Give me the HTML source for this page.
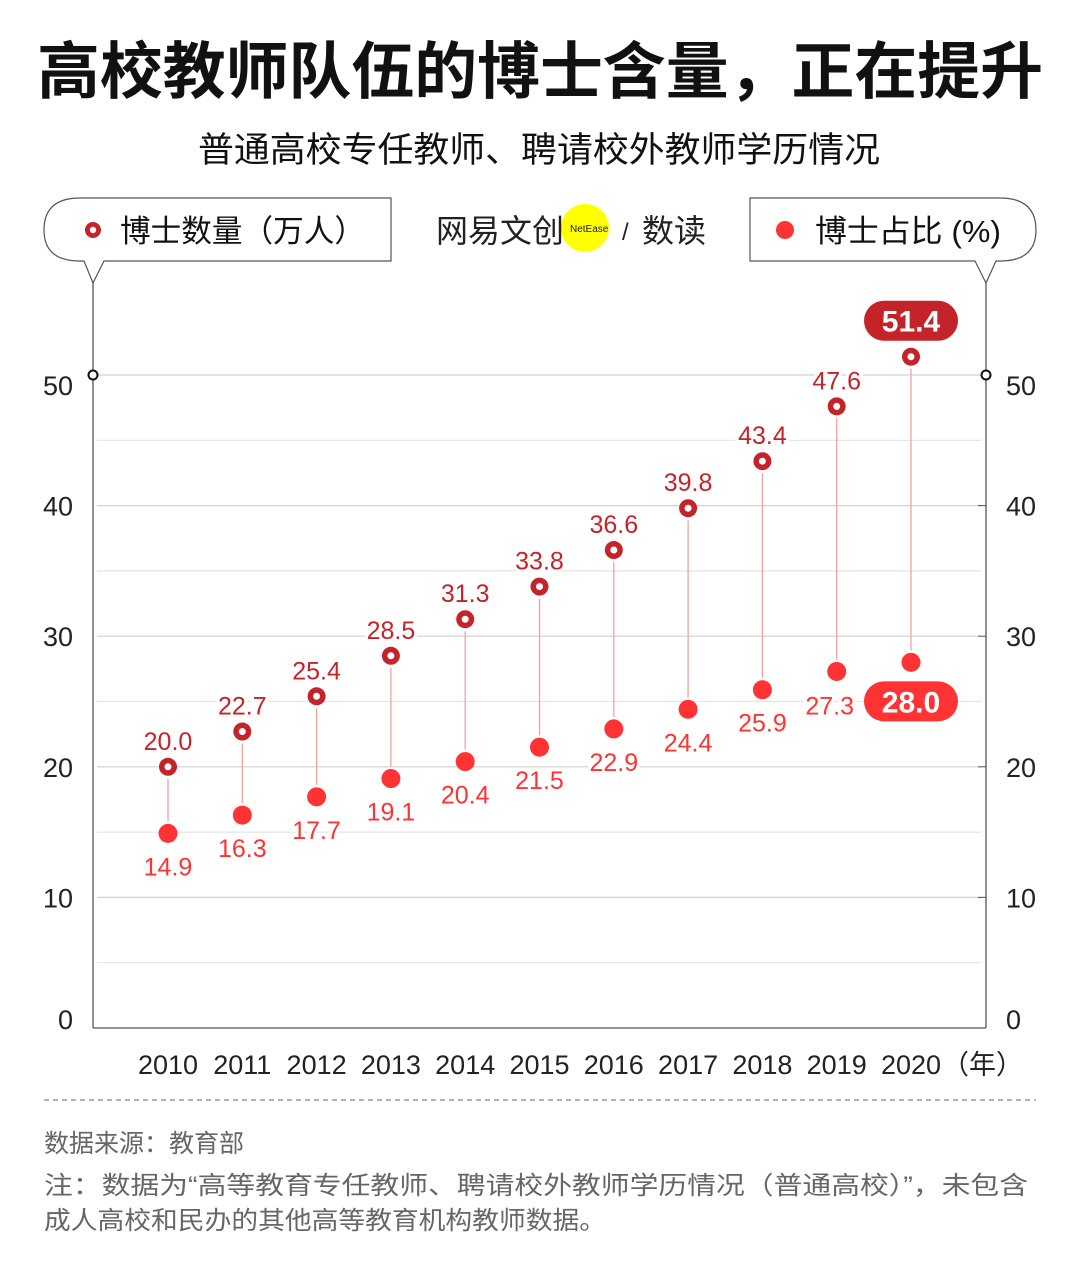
<!DOCTYPE html>
<html><head><meta charset="utf-8"><style>
body{margin:0;background:#fff;}
svg text{font-family:"Liberation Sans","Noto Sans CJK SC",sans-serif;}
</style></head><body>
<svg id="chart" width="1080" height="1274" viewBox="0 0 1080 1274" xmlns="http://www.w3.org/2000/svg">
<text x="37" y="93" textLength="1006" lengthAdjust="spacingAndGlyphs" font-size="62" font-weight="bold" fill="#111">高校教师队伍的博士含量，正在提升</text>
<text x="198" y="162" textLength="682" lengthAdjust="spacingAndGlyphs" font-size="35" fill="#111">普通高校专任教师、聘请校外教师学历情况</text>
<g>
<path d="M80,198 H391 V261 H104 L93,283 L84,261 H80 Q44,261 44,230 Q44,198 80,198 Z" fill="#fff" stroke="#555" stroke-width="1.2"/>
<circle cx="93" cy="230" r="8" fill="#c4232a"/><circle cx="93" cy="230" r="3.2" fill="#fff"/>
<text x="120" y="242" textLength="245" lengthAdjust="spacingAndGlyphs" font-size="31" fill="#111">博士数量（万人）</text>
</g>
<g>
<path d="M750,198 H1000 Q1036,198 1036,230 Q1036,261 1000,261 H996 L986,283 L975,261 H750 Z" fill="#fff" stroke="#555" stroke-width="1.2"/>
<circle cx="785" cy="230" r="9" fill="#f33"/>
<text x="815" y="242" textLength="186" lengthAdjust="spacingAndGlyphs" font-size="31" fill="#111">博士占比 (%)</text>
</g>
<g>
<circle cx="585" cy="228" r="24" fill="#ff0"/>
<text x="436" y="242" font-size="32" fill="#222">网易文创</text>
<text x="570" y="232" font-size="10" fill="#222">NetEase</text>
<text x="622" y="240" font-size="24" fill="#222">/</text>
<text x="642" y="242" font-size="32" fill="#222">数读</text>
</g>
<g id="grid"></g>
<g id="marks"></g>
<text x="44" y="1152" font-size="25" fill="#666">数据来源：教育部</text>
<text x="44" y="1194" textLength="984" lengthAdjust="spacingAndGlyphs" font-size="25" fill="#666">注：数据为“高等教育专任教师、聘请校外教师学历情况（普通高校）”，未包含</text>
<text x="44" y="1229" textLength="562" lengthAdjust="spacingAndGlyphs" font-size="25" fill="#666">成人高校和民办的其他高等教育机构教师数据。</text>
<line x1="44" y1="1100" x2="1036" y2="1100" stroke="#888" stroke-dasharray="5,4" stroke-width="1.2"/>
</svg>
<script>
const years=["2010","2011","2012","2013","2014","2015","2016","2017","2018","2019","2020"];
const doctorCount=[20.0,22.7,25.4,28.5,31.3,33.8,36.6,39.8,43.4,47.6,51.4];
const doctorRatio=[14.9,16.3,17.7,19.1,20.4,21.5,22.9,24.4,25.9,27.3,28.0];
const yTicks=[0,10,20,30,40,50];
const NS="http://www.w3.org/2000/svg";
const y=v=>1028-v*13.06;
const x=i=>168+i*74.3;
function mk(tag,attrs,parent,txt){const e=document.createElementNS(NS,tag);for(const k in attrs)e.setAttribute(k,attrs[k]);if(txt!==undefined)e.textContent=txt;parent.appendChild(e);return e;}
const g=document.getElementById('grid'),m=document.getElementById('marks');
for(let v=5;v<=50;v+=5){
 const l=mk('line',{x1:97,x2:982,y1:y(v),y2:y(v),stroke:v%10?'#e4e4e4':'#d2d2d2','stroke-width':1.2},g);
 
 
}
yTicks.forEach((v,k)=>{
 const off=k===yTicks.length-1?20:(k===0?1:10);
 const a=mk('text',{x:73,y:y(v)+off,'text-anchor':'end','font-size':27,fill:'#222'},g,String(v));
 
 
 const b=mk('text',{x:1006,y:y(v)+off,'font-size':27,fill:'#222'},g,String(v));
 
 
 if(v>0&&v<50)mk('line',{x1:978,x2:986,y1:y(v),y2:y(v),stroke:'#555'},g);
});
const ax=[[93,283,93,1028],[986,283,986,1028],[93,1028,986,1028]];
ax.forEach(a=>{const l=mk('line',{x1:a[0],y1:a[1],x2:a[2],y2:a[3],stroke:'#555','stroke-width':1.3},g);
 
 });
[93,986].forEach(cx=>mk('circle',{cx:cx,cy:y(50),r:4.5,fill:'#fff',stroke:'#111','stroke-width':2},g));
years.forEach((yr,i)=>{
 const t=mk('text',{x:x(i),y:1074,'text-anchor':'middle','font-size':27,fill:'#222'},g,yr);
 
 
});
mk('text',{x:942,y:1074,'font-size':27,fill:'#222'},g,'（年）');
years.forEach((yr,i)=>{
 const cx=x(i),yc=y(doctorCount[i]),yr2=y(doctorRatio[i]);
 const ln=mk('line',{x1:cx,x2:cx,y1:yc+12,y2:yr2-12,stroke:'#f5a0a0','stroke-width':1.3},m);
 
 
 const c=mk('circle',{cx:cx,cy:yc,r:9,fill:'#c4232a'},m);
 
 
 mk('circle',{cx:cx,cy:yc,r:3.5,fill:'#fff'},m);
 const r=mk('circle',{cx:cx,cy:yr2,r:9.5,fill:'#f33'},m);
 
 
 const last=i===years.length-1;
 if(last){
  mk('rect',{x:cx-47,y:yc-56,width:94,height:40,rx:20,fill:'#c4232a'},m);
  const t=mk('text',{x:cx,y:yc-25,'text-anchor':'middle','font-size':30,'font-weight':'bold',fill:'#fff'},m,doctorCount[i].toFixed(1));
  
  
  mk('rect',{x:cx-47,y:yr2+19,width:94,height:40,rx:20,fill:'#f33'},m);
  const t2=mk('text',{x:cx,y:yr2+50,'text-anchor':'middle','font-size':30,'font-weight':'bold',fill:'#fff'},m,doctorRatio[i].toFixed(1));
  
  
 } else {
  const t=mk('text',{x:cx,y:yc-17,'text-anchor':'middle','font-size':25,fill:'#c4232a',stroke:'#fff','stroke-width':6,'paint-order':'stroke'},m,doctorCount[i].toFixed(1));
  
  
  const lx=i===years.length-2?cx-7:cx, ly=i===years.length-2?yr2+43:yr2+42;
  const t2=mk('text',{x:lx,y:ly,'text-anchor':'middle','font-size':25,fill:'#f33',stroke:'#fff','stroke-width':6,'paint-order':'stroke'},m,doctorRatio[i].toFixed(1));
  
  
 }
});
</script>
</body></html>
